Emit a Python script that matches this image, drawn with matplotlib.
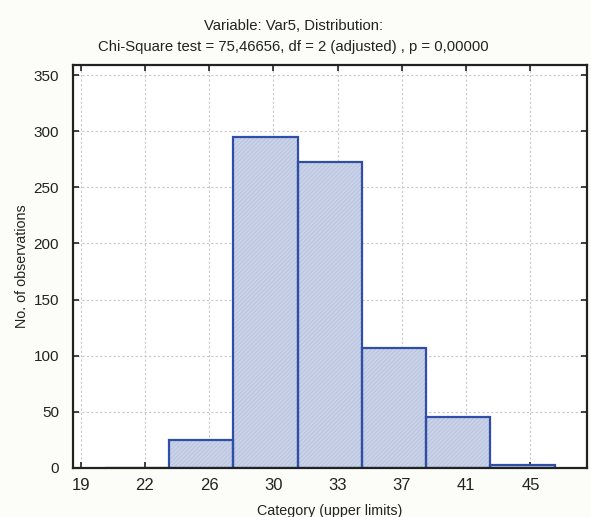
import matplotlib
matplotlib.use("Agg")
import matplotlib.pyplot as plt
import numpy as np

plt.rcParams['font.family'] = ['Liberation Sans', 'DejaVu Sans']

# Data
tick_labels = ["19", "22", "26", "30", "33", "37", "41", "45"]
x_start = 19.0
x_step = 26.0 / 7.0
bin_lower = [20.40, 24.11, 27.83, 31.54, 35.26, 38.97, 42.69]
bin_width = x_step
counts = [0, 25, 295, 273, 107, 45, 3]
y_ticks = [0, 50, 100, 150, 200, 250, 300, 350]

fig = plt.figure(figsize=(5.91, 5.17), dpi=100)
fig.patch.set_facecolor('#fcfcf8')
ax = fig.add_axes([0.1235, 0.0948, 0.8697, 0.7795])
ax.set_facecolor('white')

edge = '#2f4fa6'
ax.bar(bin_lower, counts, width=bin_width, align='edge', color='#ccd4e9',
       edgecolor='none', linewidth=0, zorder=2)
ax.bar(bin_lower, counts, width=bin_width, align='edge', color='none',
       edgecolor='#bcc6e0', hatch='////////', linewidth=0, zorder=2)
ax.bar(bin_lower, counts, width=bin_width, align='edge', color='none',
       edgecolor=edge, linewidth=1.6, zorder=3)

xt = [x_start + i * x_step for i in range(len(tick_labels))]
ax.set_xticks(xt)
ax.set_xticklabels(tick_labels)
ax.set_xlim(x_start - 0.12 * x_step, x_start + 7.88 * x_step)
ax.set_yticks(y_ticks)
ax.set_ylim(0, 359)

ax.grid(True, color='#c8c8c8', linestyle=(0, (2, 2)), linewidth=0.8, zorder=0)
ax.tick_params(direction='in', top=True, right=True, length=4, width=1.2,
               colors='#222222')
ax.tick_params(axis='x', labelsize=12, pad=7)
ax.tick_params(axis='y', labelsize=11, pad=10)
for s in ax.spines.values():
    s.set_linewidth(1.6)
    s.set_color('#222222')
    s.set_zorder(4)

ax.set_xlabel('Category (upper limits)', fontsize=10.3, color='#222222', labelpad=8)
ax.set_ylabel('No. of observations', fontsize=10.3, color='#222222', labelpad=3)

fig.text(0.497, 0.950, 'Variable: Var5, Distribution:', ha='center', va='center',
         fontsize=10.7, color='#222222')
fig.text(0.497, 0.909, 'Chi-Square test = 75,46656, df = 2 (adjusted) , p = 0,00000',
         ha='center', va='center', fontsize=10.7, color='#222222')

fig.savefig('out.png', dpi=100, facecolor=fig.get_facecolor())
